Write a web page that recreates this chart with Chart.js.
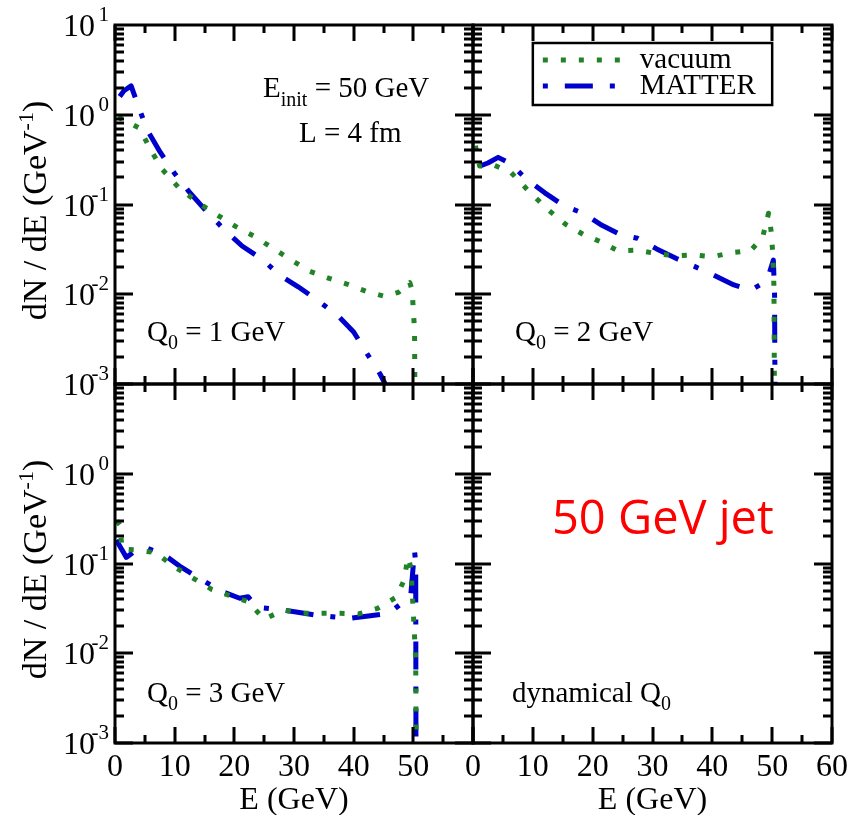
<!DOCTYPE html>
<html>
<head>
<meta charset="utf-8">
<script src="https://cdn.jsdelivr.net/npm/chart.js@4.4.0/dist/chart.umd.min.js"></script>
<style>
  html, body { margin: 0; padding: 0; background: #fff; }
  #wrap { position: relative; width: 852px; height: 815px; }
  #wrap canvas { position: absolute; left: 0; top: 0; }
</style>
</head>
<body>
<div id="wrap">
  <canvas id="pTL" width="852" height="815"></canvas>
  <canvas id="pTR" width="852" height="815"></canvas>
  <canvas id="pBL" width="852" height="815"></canvas>
  <canvas id="pBR" width="852" height="815"></canvas>
</div>
<script>
// tick labels
const xTickLabelsLeft = [0, 10, 20, 30, 40, 50];
const xTickLabelsRight = [0, 10, 20, 30, 40, 50, 60];
const yExpTop = [1, 0, -1, -2, -3];
const yExpBottom = [0, -1, -2, -3];

// Q0 = 1 GeV
const eVacQ1 = [0.5, 1.5, 4.1, 5.9, 7.9, 10.8, 14.1, 17.2, 20.2, 23.4, 26.3, 29.7, 32.6, 35.9, 39.0, 42.2, 45.2, 47.5, 49.4, 49.8, 50.2, 50.3];
const vacQ1 = [0.95, 0.87, 0.71, 0.415, 0.247, 0.151, 0.103, 0.076, 0.057, 0.044, 0.033, 0.0237, 0.0181, 0.015, 0.0129, 0.0107, 0.0095, 0.0105, 0.0135, 0.011, 0.004, 0.0003];
const eMatQ1 = [0.8, 1.5, 2.7, 4.2, 5.5, 7.6, 9.9, 12.4, 15.4, 18.5, 21.3, 24.8, 27.6, 30.7, 34.0, 37.2, 40.0, 42.2, 44.4, 46.5, 48.0];
const matQ1 = [1.6, 1.85, 2.1, 1.1, 0.66, 0.38, 0.226, 0.139, 0.083, 0.051, 0.0345, 0.0241, 0.0163, 0.0121, 0.0085, 0.0059, 0.0038, 0.0022, 0.0013, 0.0007, 0.0004];

// Q0 = 2 GeV
const eVacQ2 = [0.4, 1.1, 3.5, 6.4, 9.4, 12.5, 15.5, 18.4, 21.3, 24.2, 27.4, 30.4, 33.8, 36.8, 40.0, 43.2, 46.4, 48.4, 49.4, 49.8, 50.1, 50.3, 50.4];
const vacQ2 = [0.45, 0.268, 0.275, 0.226, 0.139, 0.088, 0.060, 0.0465, 0.0385, 0.0306, 0.031, 0.0286, 0.0267, 0.0274, 0.0262, 0.029, 0.0306, 0.043, 0.08, 0.052, 0.029, 0.012, 0.0003];
const eMatQ2 = [1.2, 2.5, 4.2, 6.1, 8.8, 12.0, 15.3, 18.4, 21.3, 24.8, 27.5, 30.7, 34.0, 37.1, 40.2, 43.6, 46.4, 48.4, 49.5, 50.2, 50.4, 50.5];
const matQ2 = [0.27, 0.29, 0.335, 0.29, 0.196, 0.135, 0.096, 0.08, 0.06, 0.0457, 0.042, 0.032, 0.025, 0.0203, 0.0164, 0.0127, 0.0111, 0.0132, 0.017, 0.024, 0.01, 0.0003];

// Q0 = 3 GeV
const eVacQ3 = [0.3, 0.8, 1.2, 3.7, 6.8, 9.9, 13.2, 16.2, 19.4, 22.3, 25.0, 28.3, 31.2, 34.4, 37.7, 40.8, 44.0, 47.1, 48.4, 49.1, 49.6, 49.8, 50.0, 50.2, 50.4, 50.5];
const vacQ3 = [0.3, 0.27, 0.145, 0.141, 0.132, 0.092, 0.068, 0.0516, 0.0435, 0.0375, 0.024, 0.0303, 0.0279, 0.0279, 0.0279, 0.0274, 0.0316, 0.042, 0.064, 0.117, 0.09, 0.05, 0.028, 0.0153, 0.0084, 0.0003];
const eMatQ3 = [0.2, 1.9, 3.5, 5.0, 8.1, 11.1, 14.4, 17.7, 20.9, 22.3, 23.8, 27.0, 30.1, 33.5, 36.4, 39.4, 42.8, 45.9, 48.4, 49.6, 50.2, 50.4, 50.45];
const matQ3 = [0.183, 0.117, 0.14, 0.151, 0.127, 0.091, 0.0667, 0.0494, 0.041, 0.0427, 0.0325, 0.0309, 0.029, 0.0267, 0.0255, 0.0245, 0.0262, 0.0279, 0.0375, 0.0466, 0.14, 0.1, 0.0003];

const SERIF = '"Liberation Serif", "Times New Roman", serif';
const GREEN = 'rgb(34,130,40)';
const BLUE = 'rgb(0,0,205)';

function pts(es, vs) {
    return es.map((e, i) => ({ x: e, y: vs[i] }));
}

function vacuumSet(es, vs) {
    return { label: 'vacuum', data: pts(es, vs), borderColor: GREEN, borderWidth: 5,
             borderDash: [5, 13], borderJoinStyle: 'round', pointRadius: 0, tension: 0, fill: false };
}
function matterSet(es, vs) {
    return { label: 'MATTER', data: pts(es, vs), borderColor: BLUE, borderWidth: 5,
             borderDash: [28, 17, 5, 17], borderJoinStyle: 'round', pointRadius: 0, tension: 0, fill: false };
}

// draws text made of pieces (sub/superscripts)
function rich(ctx, parts, x, y, align) {
    let w = 0;
    parts.forEach(p => {
        ctx.font = (p.f || p.s + 'px ' + SERIF);
        p.w = ctx.measureText(p.t).width;
        w += p.w;
    });
    let cx = align === 'center' ? x - w / 2 : align === 'right' ? x - w : x;
    ctx.textAlign = 'left';
    ctx.textBaseline = 'alphabetic';
    parts.forEach(p => {
        ctx.font = (p.f || p.s + 'px ' + SERIF);
        ctx.fillText(p.t, cx, y + (p.dy || 0));
        cx += p.w;
    });
}

const panelDeco = {
    id: 'panelDeco',
    afterDraw(chart, args, opts) {
        const ctx = chart.ctx, a = chart.chartArea;
        const xs = chart.scales.x, ys = chart.scales.y;
        ctx.save();
        ctx.strokeStyle = '#000';
        ctx.lineWidth = 3;
        ctx.setLineDash([]);
        ctx.beginPath();
        for (let v = 0; v <= 60; v += 5) {
            const px = Math.round(xs.getPixelForValue(v));
            const len = v % 10 === 0 ? 16 : 8;
            ctx.moveTo(px, a.bottom); ctx.lineTo(px, a.bottom - len);
            ctx.moveTo(px, a.top); ctx.lineTo(px, a.top + len);
        }
        for (let k = -3; k <= 0; k++) {
            for (let m = 1; m <= 9; m++) {
                const py = Math.round(ys.getPixelForValue(m * Math.pow(10, k)));
                const len = m === 1 ? 18 : 9;
                ctx.moveTo(a.left, py); ctx.lineTo(a.left + len, py);
                ctx.moveTo(a.right, py); ctx.lineTo(a.right - len, py);
            }
        }
        ctx.stroke();
        ctx.strokeRect(a.left, a.top, a.right - a.left, a.bottom - a.top);

        ctx.fillStyle = '#000';
        (opts.yExps || []).forEach(k => {
            const py = ys.getPixelForValue(Math.pow(10, k));
            rich(ctx, [{ t: '10', s: 32 }], a.left - 20, py + 11, 'right');
            rich(ctx, [{ t: String(k), s: 21 }], a.left - 6, py - 4, 'right');
        });
        (opts.xLabels || []).forEach(v => {
            rich(ctx, [{ t: String(v), s: 32 }], xs.getPixelForValue(v), 776, 'center');
        });
        if (opts.xTitle) {
            rich(ctx, [{ t: 'E (GeV)', s: 32 }], (a.left + a.right) / 2, 809, 'center');
        }
        if (opts.yTitle) {
            ctx.save();
            ctx.translate(46, (a.top + a.bottom) / 2 + 6);
            ctx.rotate(-Math.PI / 2);
            rich(ctx, [{ t: 'dN / dE (GeV', s: 34 }, { t: '-1', s: 22, dy: -13 }, { t: ')', s: 34 }], 0, 0, 'center');
            ctx.restore();
        }
        (opts.texts || []).forEach(t => {
            ctx.fillStyle = t.color || '#000';
            rich(ctx, t.parts, t.x, t.y, 'left');
        });

        if (opts.legend) {
            const lx = xs.getPixelForValue(10), rx = xs.getPixelForValue(50);
            const ty = a.top + 18, h = 62;
            ctx.fillStyle = '#fff';
            ctx.fillRect(lx, ty, rx - lx, h);
            ctx.lineWidth = 2.5;
            ctx.strokeRect(lx, ty, rx - lx, h);
            chart.data.datasets.forEach((ds, i) => {
                const ly = ty + 17 + i * 26;
                ctx.strokeStyle = ds.borderColor;
                ctx.lineWidth = 5;
                ctx.setLineDash(ds.borderDash);
                ctx.lineDashOffset = ds.borderDash.length > 2 ? ds.borderDash[0] + ds.borderDash[1] : 0;
                ctx.beginPath();
                ctx.moveTo(lx + 10, ly); ctx.lineTo(lx + 87, ly);
                ctx.stroke();
                ctx.setLineDash([]);
                ctx.lineDashOffset = 0;
                ctx.fillStyle = '#000';
                rich(ctx, [{ t: ds.label, s: 29 }], lx + 107, ly + 8, 'left');
            });
        }
        ctx.restore();
    }
};

function makePanel(id, datasets, padding, deco) {
    return new Chart(document.getElementById(id).getContext('2d'), {
        type: 'line',
        data: { datasets: datasets },
        options: {
            responsive: false,
            animation: false,
            events: [],
            layout: { padding: padding },
            scales: {
                x: { type: 'linear', min: 0, max: 60, display: false },
                y: { type: 'logarithmic', min: 0.001, max: 10, display: false }
            },
            plugins: {
                legend: { display: false },
                tooltip: { enabled: false },
                panelDeco: deco
            }
        },
        plugins: [panelDeco]
    });
}

function q0(n) {
    return [{ t: 'Q', s: 29 }, { t: '0', s: 20, dy: 8 }, { t: ' = ' + n + ' GeV', s: 29 }];
}

makePanel('pTL', [vacuumSet(eVacQ1, vacQ1), matterSet(eMatQ1, matQ1)],
    { left: 115, top: 25, right: 379, bottom: 431 },
    { yExps: yExpTop, yTitle: true, texts: [
        { parts: [{ t: 'E', s: 29 }, { t: 'init', s: 20, dy: 9 }, { t: ' = 50 GeV', s: 29 }], x: 263, y: 97 },
        { parts: [{ t: 'L = 4 fm', s: 29 }], x: 299, y: 142 },
        { parts: q0(1), x: 147, y: 341 }
    ] });

makePanel('pTR', [vacuumSet(eVacQ2, vacQ2), matterSet(eMatQ2, matQ2)],
    { left: 473, top: 25, right: 20, bottom: 431 },
    { legend: true, texts: [{ parts: q0(2), x: 515, y: 341 }] });

makePanel('pBL', [vacuumSet(eVacQ3, vacQ3), matterSet(eMatQ3, matQ3)],
    { left: 115, top: 384, right: 379, bottom: 72 },
    { yExps: yExpBottom, yTitle: true, xLabels: xTickLabelsLeft, xTitle: true,
      texts: [{ parts: q0(3), x: 147, y: 702 }] });

makePanel('pBR', [],
    { left: 473, top: 384, right: 20, bottom: 72 },
    { xLabels: xTickLabelsRight, xTitle: true, texts: [
        { parts: [{ t: 'dynamical Q', s: 29 }, { t: '0', s: 20, dy: 8 }], x: 512, y: 702 },
        { parts: [{ t: '50 GeV jet', f: '47px "Open Sans", "Noto Sans", sans-serif' }], x: 552, y: 534, color: 'rgb(255,0,0)' }
    ] });
</script>
</body>
</html>
